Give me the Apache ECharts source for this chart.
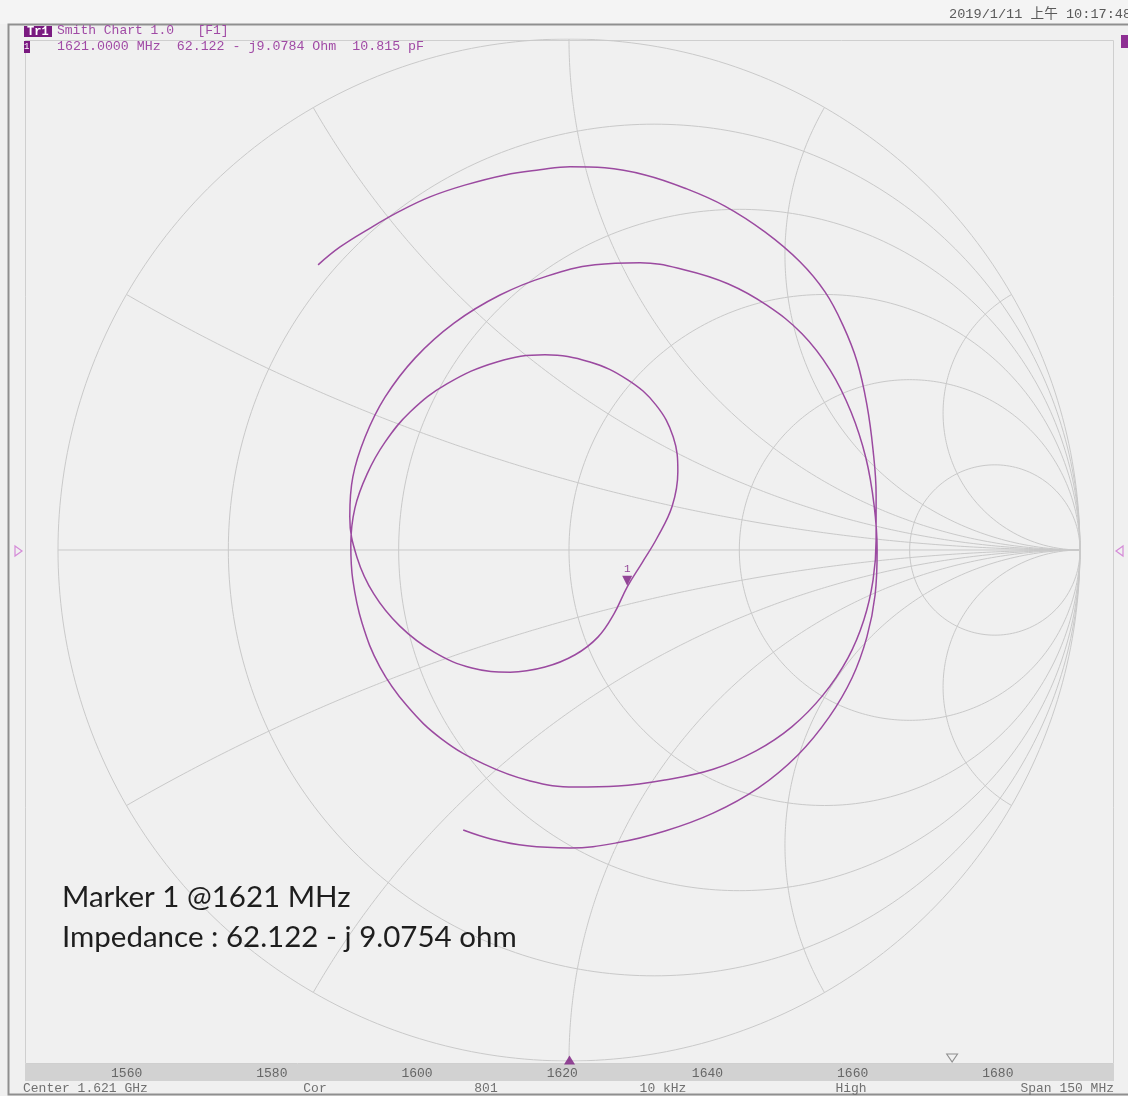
<!DOCTYPE html>
<html><head><meta charset="utf-8">
<script src="https://cdn.jsdelivr.net/npm/echarts@6/dist/echarts.min.js"></script>
<style>html,body{margin:0;padding:0;background:#f2f2f2}#c{width:1128px;height:1096px}</style>
</head><body><div id="c"></div>
<script>
// ---- grid definition (normalised resistance circles / reactance arcs) ----
const resistanceCircles = [0.2, 0.5, 1, 2, 5];
const reactanceArcs = [0.268, 0.577, 1, 1.732, 3.732];
// ---- measured trace, reflection coefficient (real / imag), 1546 -> 1696 MHz ----
const traceRe = [-0.491,-0.448,-0.389,-0.331,-0.272,-0.204,-0.125,-0.057,0.002,0.070,0.149,0.227,0.305,0.384,0.452,0.501,0.536,0.564,0.583,0.595,0.601,0.601,0.595,0.577,0.546,0.497,0.436,0.366,0.282,0.188,0.096,0.012,-0.076,-0.166,-0.249,-0.317,-0.370,-0.405,-0.423,-0.427,-0.419,-0.395,-0.360,-0.311,-0.239,-0.141,-0.047,0.041,0.115,0.170,0.204,0.213,0.202,0.172,0.143,0.114,
 0.088,0.057,0.012,-0.047,-0.115,-0.190,-0.264,-0.331,-0.382,-0.415,-0.429,-0.423,-0.399,-0.360,-0.301,-0.225,-0.135,-0.043,0.051,0.139,0.227,0.311,0.387,0.456,0.511,0.552,0.581,0.597,0.603,0.599,0.583,0.554,0.509,0.448,0.370,0.282,0.188,0.094,0.002,-0.082,-0.151,-0.207];
const traceIm = [0.558,0.593,0.630,0.663,0.691,0.714,0.734,0.744,0.750,0.748,0.734,0.708,0.673,0.622,0.564,0.505,0.440,0.368,0.284,0.196,0.108,0.020,-0.059,-0.137,-0.211,-0.284,-0.346,-0.393,-0.429,-0.450,-0.462,-0.464,-0.452,-0.419,-0.370,-0.305,-0.229,-0.143,-0.059,0.010,0.082,0.149,0.211,0.270,0.325,0.368,0.382,0.368,0.333,0.284,0.221,0.153,0.086,0.023,-0.025,-0.072,
 -0.125,-0.170,-0.205,-0.229,-0.239,-0.231,-0.200,-0.149,-0.086,-0.014,0.065,0.143,0.221,0.299,0.376,0.444,0.499,0.536,0.558,0.562,0.548,0.521,0.479,0.423,0.352,0.270,0.180,0.088,0.000,-0.088,-0.170,-0.250,-0.327,-0.401,-0.466,-0.515,-0.550,-0.573,-0.583,-0.579,-0.566,-0.548];
// ---- marker readout ----
const markerFreqMHz = 1621;
const markerR = 62.122, markerX = -9.0784, z0 = 50;
const sweepIndicatorMHz = 1673.7;
// ---- stimulus axis ----
const freqStart = 1546, freqStop = 1696;
const freqTicks = [1560, 1580, 1600, 1620, 1640, 1660, 1680];

function zToGamma(r, x) {
  const nr = r - 1, ni = x, dr = r + 1, di = x;
  const d = dr * dr + di * di;
  return [(nr * dr + ni * di) / d, (ni * dr - nr * di) / d];
}
const markerGamma = zToGamma(markerR / z0, markerX / z0);

const GRID = '#c9c9c9';
const gridSeries = [];
function addGrid(pts) {
  gridSeries.push({type: 'line', data: pts, showSymbol: false, silent: true, animation: false,
    lineStyle: {color: GRID, width: 1}, z: 1, xAxisIndex: 0, yAxisIndex: 0});
}
[0].concat(resistanceCircles).forEach(r => {
  const cx = r / (r + 1), rad = 1 / (r + 1), pts = [];
  for (let i = 0; i <= 360; i++) { const a = i * Math.PI / 180; pts.push([cx + rad * Math.cos(a), rad * Math.sin(a)]); }
  addGrid(pts);
});
reactanceArcs.forEach(xv => {
  [xv, -xv].forEach(x => {
    const pts = [];
    for (let i = 0; i <= 300; i++) {
      const r = Math.tan(i / 300 * Math.PI / 2 * 0.9995);
      pts.push(zToGamma(r, x));
    }
    pts.push([1, 0]);
    addGrid(pts);
  });
});
addGrid([[-1, 0], [1, 0]]);

const traceData = traceRe.map((v, i) => [v, traceIm[i]]);
const MONO = '"Liberation Mono", "DejaVu Sans Mono", "Noto Sans CJK SC", monospace';
const HDR = '#a04aa5';

const chart = echarts.init(document.getElementById('c'));
chart.setOption({
  backgroundColor: '#f0f0f0',
  animation: false,
  grid: [
    {left: 58, top: 39, width: 1022, height: 1022},
    {left: 25, right: 14, top: 1056, height: 8}
  ],
  xAxis: [
    {gridIndex: 0, type: 'value', min: -1, max: 1, show: false},
    {gridIndex: 1, type: 'value', min: freqStart, max: freqStop,
     axisLine: {show: false}, axisTick: {show: false}, splitLine: {show: false},
     axisLabel: {customValues: freqTicks, formatter: v => String(v), margin: 3, color: '#666', fontSize: 13, fontFamily: MONO}}
  ],
  yAxis: [
    {gridIndex: 0, type: 'value', min: -1, max: 1, show: false},
    {gridIndex: 1, type: 'value', min: 0, max: 1, show: false}
  ],
  series: gridSeries.concat([
    {type: 'line', name: 'S11', data: traceData, smooth: 0.4, showSymbol: false, z: 3,
     lineStyle: {color: '#9b4aa0', width: 1.5}, xAxisIndex: 0, yAxisIndex: 0},
    {type: 'scatter', data: [markerGamma], symbol: 'triangle', symbolRotate: 180, symbolSize: [10, 10],
     symbolOffset: [0, -6], itemStyle: {color: '#7a1a80'}, z: 4, xAxisIndex: 0, yAxisIndex: 0,
     label: {show: true, formatter: '1', position: 'top', distance: 1, color: '#7a1a80', fontSize: 11, fontFamily: MONO}},
    {type: 'scatter', data: [[markerFreqMHz, 0]], symbol: 'triangle', symbolSize: [11, 9], symbolOffset: [0, -4],
     itemStyle: {color: '#7a1a80'}, xAxisIndex: 1, yAxisIndex: 1, z: 5},
    {type: 'scatter', data: [[sweepIndicatorMHz, 0]], symbol: 'path://M0,0 L10,0 L5,8 Z', symbolSize: [11, 8],
     symbolOffset: [0, -6], itemStyle: {color: 'rgba(0,0,0,0)', borderColor: '#777', borderWidth: 1},
     xAxisIndex: 1, yAxisIndex: 1, z: 5}
  ]),
  graphic: [
    {type: 'rect', shape: {x: 0, y: 0, width: 1128, height: 24}, style: {fill: '#f4f4f4'}, z: -10, silent: true},
    {type: 'rect', shape: {x: 25.5, y: 40.5, width: 1088, height: 1023}, style: {fill: 'none', stroke: '#cfcfcf', lineWidth: 1}, z: -5, silent: true},
    {type: 'rect', shape: {x: 25, y: 1064, width: 1089, height: 17}, style: {fill: '#d2d2d2'}, z: -4, silent: true},
    {type: 'polyline', shape: {points: [[1128, 24.5], [8.5, 24.5], [8.5, 1094.5], [1128, 1094.5]]}, style: {stroke: '#8f8f8f', lineWidth: 2, fill: 'none'}, z: 10, silent: true},
    {type: 'polygon', shape: {points: [[15, 546], [22, 551], [15, 556]]}, style: {fill: 'none', stroke: '#d58ad8', lineWidth: 1.2}, z: 10},
    {type: 'polygon', shape: {points: [[1123, 546], [1116, 551], [1123, 556]]}, style: {fill: 'none', stroke: '#d58ad8', lineWidth: 1.2}, z: 10},
    // header
    {type: 'rect', shape: {x: 24, y: 26, width: 28, height: 11}, style: {fill: '#7a1a80'}, z: 20},
    {type: 'text', x: 27, y: 31.5, style: {text: 'Tr1', fill: '#ffffff', font: 'bold 12px ' + MONO, textVerticalAlign: 'middle'}, z: 21},
    {type: 'text', x: 57, y: 31, style: {text: 'Smith Chart 1.0   [F1]', fill: HDR, font: '13px ' + MONO, textVerticalAlign: 'middle'}, z: 21},
    {type: 'rect', shape: {x: 24, y: 41, width: 6, height: 12}, style: {fill: '#7a1a80'}, z: 20},
    {type: 'text', x: 24, y: 47, style: {text: '1', fill: '#ffffff', font: '9px ' + MONO, textVerticalAlign: 'middle'}, z: 21},
    {type: 'text', x: 57, y: 46, style: {text: '1621.0000 MHz  62.122 - j9.0784 Ohm  10.815 pF', fill: HDR, font: '13.3px ' + MONO, textVerticalAlign: 'middle'}, z: 21},
    {type: 'text', x: 949, y: 14, style: {text: '2019/1/11 上午 10:17:48', fill: '#5a5a5a', font: '13.6px ' + MONO, textVerticalAlign: 'middle'}, z: 21},
    {type: 'rect', shape: {x: 1121, y: 35, width: 10, height: 13}, style: {fill: '#8e2f93'}, z: 20},
    // footer
    {type: 'text', x: 23, y: 1089, style: {text: 'Center 1.621 GHz', fill: '#707070', font: '13px ' + MONO, textVerticalAlign: 'middle'}, z: 21},
    {type: 'text', x: 315, y: 1089, style: {text: 'Cor', fill: '#707070', font: '13px ' + MONO, textVerticalAlign: 'middle', textAlign: 'center'}, z: 21},
    {type: 'text', x: 486, y: 1089, style: {text: '801', fill: '#707070', font: '13px ' + MONO, textVerticalAlign: 'middle', textAlign: 'center'}, z: 21},
    {type: 'text', x: 663, y: 1089, style: {text: '10 kHz', fill: '#707070', font: '13px ' + MONO, textVerticalAlign: 'middle', textAlign: 'center'}, z: 21},
    {type: 'text', x: 851, y: 1089, style: {text: 'High', fill: '#707070', font: '13px ' + MONO, textVerticalAlign: 'middle', textAlign: 'center'}, z: 21},
    {type: 'text', x: 1114, y: 1089, style: {text: 'Span 150 MHz', fill: '#707070', font: '13px ' + MONO, textVerticalAlign: 'middle', textAlign: 'right'}, z: 21},
    // annotation
    {type: 'text', x: 62, y: 897, style: {text: 'Marker 1 @1621 MHz', fill: '#1e1e1e', font: '29.5px Lato', textVerticalAlign: 'middle'}, z: 21},
    {type: 'text', x: 62, y: 937, style: {text: 'Impedance : 62.122 - j 9.0754 ohm', fill: '#1e1e1e', font: '29.5px Lato', textVerticalAlign: 'middle'}, z: 21}
  ]
});
</script></body></html>
